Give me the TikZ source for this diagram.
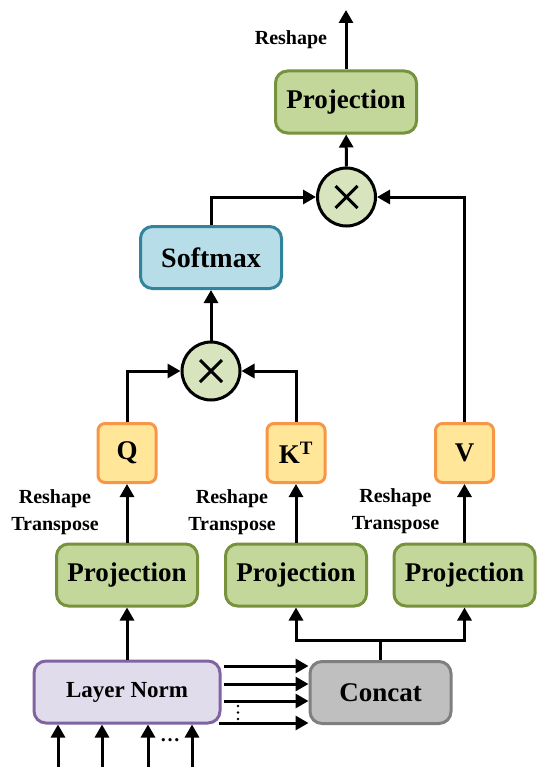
\documentclass[tikz,border=0pt]{standalone}
\usepackage{fontspec}
\setmainfont{Liberation Serif}
\usetikzlibrary{arrows.meta,positioning}
\definecolor{ProjGreen}{RGB}{196,215,155}
\definecolor{ProjEdge}{RGB}{118,146,60}
\definecolor{MulGreen}{RGB}{215,228,189}
\definecolor{SoftBlue}{RGB}{183,222,232}
\definecolor{SoftEdge}{RGB}{49,132,155}
\definecolor{QkvYellow}{RGB}{255,230,153}
\definecolor{QkvEdge}{RGB}{247,150,70}
\definecolor{NormLilac}{RGB}{224,220,235}
\definecolor{NormEdge}{RGB}{128,100,162}
\definecolor{CatGrey}{RGB}{191,191,191}
\definecolor{CatEdge}{RGB}{127,127,127}

\begin{document}
\begin{tikzpicture}[x=1pt,y=-1pt,>={Triangle[length=13pt,width=14pt]},
  box/.style={draw,line width=3pt,rounded corners=12pt,minimum width=141pt,
    minimum height=62pt,inner sep=0pt,font=\fontsize{27}{27}\selectfont\bfseries},
  proj/.style={box,fill=ProjGreen,draw=ProjEdge},
  qkv/.style={box,fill=QkvYellow,draw=QkvEdge,minimum width=58pt,
    minimum height=59pt,rounded corners=7pt},
  mul/.style={circle,draw,line width=3pt,fill=MulGreen,minimum size=58pt,inner sep=0pt,
    path picture={
      \draw[line width=3pt] ([shift={(-11pt,-11pt)}]path picture bounding box.center)
        -- ([shift={(11pt,11pt)}]path picture bounding box.center);
      \draw[line width=3pt] ([shift={(-11pt,11pt)}]path picture bounding box.center)
        -- ([shift={(11pt,-11pt)}]path picture bounding box.center);}},
  arr/.style={->,line width=3pt},
  lbl/.style={font=\fontsize{20}{27}\selectfont\bfseries,align=center}]
  \useasboundingbox (0,0) rectangle (550,773);

  % input side
  \node[box,fill=NormLilac,draw=NormEdge,minimum width=186pt,
    font=\fontsize{23}{23}\selectfont\bfseries] (ln) at (127,692) {Layer Norm};
  \node[box,fill=CatGrey,draw=CatEdge] (cat) at (380.5,692.5) {Concat};

  % projections and Q, K, V
  \node[proj] (p1) at (127,575) {Projection};
  \node[proj] (p2) at (296,575) {Projection};
  \node[proj] (p3) at (464.5,575) {Projection};
  \node[qkv] (q) at (127,453) {Q};
  \node[qkv] (k) at (296,453) {K\textsuperscript{T}};
  \node[qkv] (v) at (464.5,453) {V};
  \node[lbl] (rt1) at (55,512) {Reshape\\Transpose};
  \node[lbl] (rt2) at (232,512) {Reshape\\Transpose};
  \node[lbl] (rt3) at (395.5,511) {Reshape\\Transpose};

  % attention
  \node[mul] (m1) at (211,371) {};
  \node[box,fill=SoftBlue,draw=SoftEdge,font=\fontsize{28}{28}\selectfont\bfseries]
    (sm) at (211,257.5) {Softmax};
  \node[mul] (m2) at (346.5,197) {};
  \node[proj] (po) at (346,102) {Projection};
  \coordinate (out) at (346,10);
  \node[lbl] (rs) at (291,40) {Reshape};

  % inputs into Layer Norm
  \foreach \x in {58,102,148,192} {
    \coordinate (in\x) at (\x,767);
    \draw[arr] (in\x) -- (in\x |- ln.south);
  }
  \node[lbl] (hd) at (170,740) {\ldots};

  % Layer Norm to Concat
  \foreach \y in {666,684,701}
    \draw[arr] ([xshift=2pt]ln.east |- 0,\y) -- (cat.west |- 0,\y);
  \draw[arr] ([xshift=-3pt]ln.east |- 0,723) -- (cat.west |- 0,723);
  \foreach \t in {706,712.5,719}
    \fill (238,\t) circle (1.4pt);

  \draw[arr] (ln.north) -- (p1.south);
  \coordinate (split) at (cat.north |- 0,640);
  \draw[line width=3pt] (cat.north) -- (split);
  \draw[arr] (split) -| (p2.south);
  \draw[arr] (split) -| (p3.south);
  \foreach \a/\b in {p1/q,p2/k,p3/v}
    \draw[arr] (\a) -- (\b);

  \draw[arr] (q.north) |- (m1.west);
  \draw[arr] (k.north) |- (m1.east);
  \draw[arr] (m1) -- (sm);
  \draw[arr] (sm.north) |- (m2.west);
  \draw[arr] (v.north) |- (m2.east);
  \draw[arr] (m2) -- (po);
  \draw[arr] (po) -- (out);
\end{tikzpicture}
\end{document}
